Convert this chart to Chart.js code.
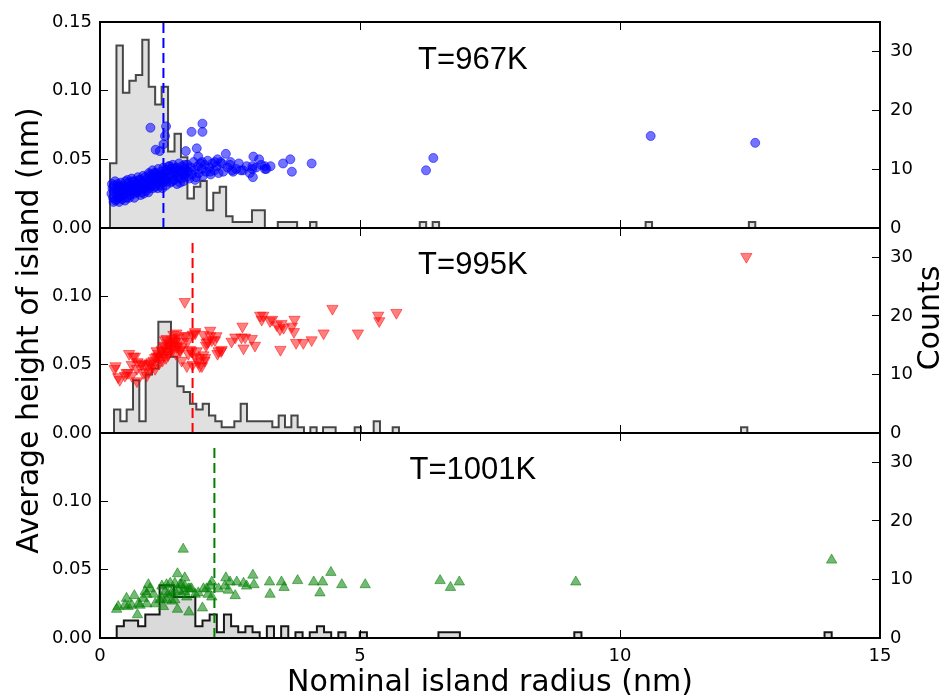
<!DOCTYPE html>
<html>
<head>
<meta charset="utf-8">
<script src="https://cdn.jsdelivr.net/npm/chart.js@4.4.1/dist/chart.umd.min.js"></script>
<style>
  html, body { margin: 0; padding: 0; background: #fff; }
  #wrap { position: relative; width: 947px; height: 700px; }
  #wrap canvas { position: absolute; left: 0; top: 0; }
</style>
</head>
<body>
<div id="wrap">
  <canvas id="p1" width="947" height="700"></canvas>
  <canvas id="p2" width="947" height="700"></canvas>
  <canvas id="p3" width="947" height="700"></canvas>
</div>
<script>
// shared axes
var xTicks = [0, 5, 10, 15];
var heightTicks = [0, 0.05, 0.10, 0.15];
var countTicks = [0, 10, 20, 30];
var panelLabels = ['T=967K', 'T=995K', 'T=1001K'];

// T=967K : [radius, height]
var pts967 = [
  [0.22,0.025],[0.24,0.029],[0.25,0.022],[0.27,0.031],[0.28,0.026],[0.30,0.020],[0.31,0.028],[0.33,0.024],
  [0.34,0.032],[0.35,0.027],[0.36,0.022],[0.38,0.030],[0.39,0.025],[0.40,0.033],[0.41,0.028],[0.42,0.021],
  [0.43,0.026],[0.45,0.031],[0.46,0.024],[0.47,0.029],[0.49,0.034],[0.50,0.027],[0.51,0.022],[0.52,0.030],
  [0.54,0.026],[0.55,0.033],[0.57,0.029],[0.58,0.024],[0.60,0.031],[0.61,0.036],[0.62,0.027],[0.64,0.030],
  [0.65,0.025],[0.67,0.034],[0.68,0.029],[0.70,0.032],[0.71,0.026],[0.73,0.037],[0.74,0.031],[0.76,0.028],
  [0.77,0.035],[0.79,0.030],[0.80,0.026],[0.82,0.033],[0.83,0.038],[0.85,0.029],[0.86,0.034],[0.88,0.031],
  [0.89,0.027],[0.91,0.036],[0.92,0.032],[0.94,0.040],[0.95,0.029],[0.97,0.035],[0.98,0.038],[1.00,0.031],
  [1.01,0.042],[1.03,0.034],[1.04,0.037],[1.06,0.030],[1.07,0.040],[1.09,0.036],[1.10,0.033],[1.12,0.043],
  [1.13,0.038],[1.15,0.031],[1.16,0.035],[1.18,0.041],[1.19,0.037],[1.21,0.033],[1.22,0.044],[1.24,0.039],
  [1.25,0.035],[1.27,0.031],[1.28,0.042],[1.30,0.037],[1.32,0.045],[1.33,0.040],[1.35,0.033],[1.37,0.043],
  [1.38,0.038],[1.40,0.046],[1.42,0.035],[1.43,0.041],[1.45,0.039],[1.47,0.044],[1.48,0.032],[1.50,0.037],
  [1.52,0.047],[1.53,0.042],[1.55,0.036],[1.57,0.040],[1.58,0.045],[1.60,0.034],[1.62,0.039],[1.64,0.043],
  [1.66,0.037],[1.68,0.046],[1.70,0.041],[1.72,0.036],[1.75,0.044],[1.77,0.039],[1.80,0.048],[1.82,0.042],
  [1.85,0.037],[1.88,0.045],[1.90,0.040],[1.93,0.047],[1.96,0.043],[1.98,0.038],[2.01,0.046],[2.04,0.041],
  [2.07,0.049],[2.10,0.044],[2.13,0.039],[2.16,0.047],[2.20,0.042],[2.24,0.045],[2.28,0.040],[2.32,0.048],
  [2.45,0.044],[2.50,0.046],[2.56,0.041],[2.62,0.043],[2.67,0.047],[2.75,0.042],[2.82,0.045],[2.88,0.040],
  [3.00,0.044],[3.10,0.046],[3.20,0.043],[3.28,0.045],
  [0.23,0.032],[0.26,0.019],[0.29,0.034],[0.32,0.021],[0.35,0.030],[0.37,0.019],[0.40,0.024],[0.44,0.028],
  [0.48,0.020],[0.53,0.035],[0.56,0.022],[0.59,0.028],[0.63,0.034],[0.66,0.022],[0.69,0.027],[0.72,0.030],
  [0.75,0.035],[0.78,0.024],[0.81,0.030],[0.84,0.025],[0.87,0.037],[0.90,0.030],[0.93,0.026],[0.96,0.039],
  [0.99,0.033],[1.02,0.029],[1.05,0.040],[1.08,0.034],[1.11,0.029],[1.14,0.039],[1.17,0.034],[1.20,0.029],
  [1.23,0.037],[1.26,0.040],[1.29,0.034],[1.34,0.045],[1.39,0.034],[1.44,0.043],[1.49,0.040],[1.54,0.033],
  [1.59,0.041],[1.63,0.046],[1.67,0.041],
  [0.97,0.073],[1.27,0.074],[1.25,0.067],[1.22,0.061],[1.07,0.057],[1.15,0.056],[1.76,0.070],[1.97,0.076],
  [1.97,0.070],[1.86,0.058],[1.65,0.056],[1.89,0.052],[2.42,0.054],[2.95,0.052],[3.06,0.050],[3.17,0.045],
  [3.17,0.043],[2.93,0.045],[2.93,0.043],[2.94,0.037],[3.52,0.047],[3.66,0.050],[3.69,0.041],[4.07,0.047],
  [2.71,0.042],[2.51,0.048],[2.54,0.042],[2.34,0.047],[2.37,0.041],[2.21,0.048],[2.26,0.050],[2.12,0.041],
  [1.96,0.048],[1.83,0.035],[6.27,0.042],[6.41,0.051],[10.59,0.067],[12.60,0.062]
];
var hist967Start = 0.192;
var hist967Width = 0.1241;
var hist967Counts = [
  11,31,23,25,26,32,24,21,24,13,
  16,12,5,7,8,3,6,7,2,1,
  1,1,3,3,0,0,1,1,1,0,
  0,1,0,0,0,0,0,0,0,0,
  0,0,0,0,0,0,0,0,1,0,
  1,0,0,0,0,0,0,0,0,0,
  0,0,0,0,0,0,0,0,0,0,
  0,0,0,0,0,0,0,0,0,0,
  0,0,0,1,0,0,0,0,0,0,
  0,0,0,0,0,0,0,0,0,1
];

// T=995K
var pts995 = [
  [1.63,0.096],[1.78,0.072],[1.83,0.074],[1.67,0.071],[1.99,0.072],[2.12,0.075],[2.08,0.067],[2.15,0.068],
  [2.04,0.064],[2.24,0.071],[2.33,0.060],[2.26,0.058],[2.53,0.067],[2.60,0.070],[2.72,0.070],[2.74,0.078],
  [2.79,0.070],[2.76,0.062],[2.92,0.069],[2.98,0.064],[3.08,0.086],[3.11,0.083],[3.14,0.086],[3.27,0.082],
  [3.31,0.083],[3.40,0.079],[3.49,0.080],[3.53,0.077],[3.46,0.076],[3.69,0.078],[3.74,0.083],[3.73,0.074],
  [3.47,0.061],[3.77,0.066],[3.91,0.066],[4.07,0.068],[4.30,0.073],[4.47,0.091],[4.96,0.073],[5.35,0.086],
  [5.37,0.082],[5.70,0.088],[12.43,0.129],
  [0.28,0.047],[0.30,0.049],[0.35,0.041],[0.38,0.039],[0.48,0.042],[0.51,0.044],[0.54,0.044],[0.56,0.058],
  [0.61,0.050],[0.61,0.042],[0.64,0.056],[0.67,0.056],[0.71,0.047],[0.71,0.038],[0.72,0.052],[0.80,0.051],
  [0.80,0.050],[0.83,0.044],[0.87,0.050],[0.90,0.042],[0.93,0.045],[0.93,0.049],[0.96,0.051],[0.99,0.052],
  [1.03,0.053],[1.06,0.055],[1.06,0.047],[1.09,0.060],[1.09,0.056],[1.12,0.056],[1.12,0.058],[1.15,0.055],
  [1.19,0.060],[1.19,0.061],[1.22,0.064],[1.22,0.057],[1.25,0.068],[1.25,0.063],[1.28,0.069],[1.28,0.060],
  [1.31,0.057],[1.31,0.066],[1.35,0.062],[1.38,0.068],[1.41,0.072],[1.41,0.064],[1.44,0.067],[1.44,0.069],
  [1.47,0.063],[1.47,0.073],[1.51,0.064],[1.51,0.067],[1.54,0.060],[1.54,0.061],[1.57,0.053],[1.57,0.063],
  [1.63,0.071],[1.67,0.049],[1.68,0.067],[1.70,0.058],[1.73,0.061],[1.76,0.060],[1.78,0.050],[1.83,0.056],
  [1.83,0.073],[1.86,0.060],[1.89,0.052],[1.91,0.055],[1.92,0.049],[1.96,0.049],[1.99,0.057],[2.01,0.053],
  [2.02,0.055],[2.05,0.066],[2.12,0.071],[2.21,0.068],[2.28,0.060],[2.34,0.061],
  [1.00,0.048],[1.14,0.051],[1.20,0.053],[1.27,0.055],[1.33,0.059],[1.36,0.065],[1.40,0.061],[1.46,0.058],
  [1.50,0.070]
];
var hist995Start = 0.269;
var hist995Width = 0.1218;
var hist995Counts = [
  4,2,4,9,2,10,11,19,19,13,
  8,7,5,4,5,3,2,1,1,2,
  5,2,2,2,2,1,3,1,3,1,
  0,1,0,1,1,0,0,0,1,0,
  0,2,0,0,1,0,0,0,0,0,
  0,0,0,0,0,0,0,0,0,0,
  0,0,0,0,0,0,0,0,0,0,
  0,0,0,0,0,0,0,0,0,0,
  0,0,0,0,0,0,0,0,0,0,
  0,0,0,0,0,0,0,0,0,1
];

// T=1001K
var pts1001 = [
  [1.60,0.065],[1.49,0.047],[1.63,0.044],[2.42,0.044],[2.50,0.041],[2.63,0.041],[2.76,0.040],[2.82,0.038],
  [2.94,0.046],[2.96,0.039],[3.26,0.041],[3.27,0.032],[3.49,0.041],[3.54,0.037],[3.80,0.042],[4.11,0.041],
  [4.28,0.041],[4.23,0.033],[4.44,0.048],[4.65,0.039],[5.10,0.039],[2.15,0.041],[2.12,0.038],[2.15,0.030],
  [2.28,0.036],[2.40,0.038],[2.47,0.035],[2.60,0.031],[1.97,0.022],[1.71,0.019],[1.49,0.021],[0.72,0.017],
  [0.32,0.021],[0.35,0.023],[0.51,0.029],[0.66,0.031],[0.48,0.024],[0.54,0.023],[0.61,0.024],[0.74,0.025],
  [0.77,0.024],[0.90,0.025],[0.93,0.039],[0.96,0.036],[1.03,0.032],[1.06,0.025],[1.15,0.028],[1.22,0.023],
  [1.25,0.034],[1.31,0.032],[1.38,0.033],[1.44,0.034],[1.51,0.035],[1.57,0.039],[1.63,0.034],[1.70,0.036],
  [1.76,0.036],[1.83,0.032],[1.89,0.033],[1.19,0.038],[1.28,0.039],[1.35,0.040],[1.44,0.040],[1.54,0.039],
  [1.63,0.038],[1.73,0.036],[1.19,0.029],[1.28,0.028],[1.38,0.027],[1.44,0.028],[1.57,0.032],[1.67,0.030],
  [1.99,0.036],[2.05,0.036],[2.08,0.032],[0.87,0.034],[0.83,0.029],[0.90,0.032],
  [6.54,0.042],[6.74,0.037],[6.91,0.041],[9.15,0.041],[14.07,0.057]
];
var hist1001Start = 0.321;
var hist1001Width = 0.1375;
var hist1001Counts = [
  2,3,3,2,4,4,9,9,7,7,
  7,2,3,4,1,4,2,1,2,1,
  0,2,0,2,0,1,0,1,2,1,
  0,1,0,0,1,0,0,0,0,0,
  0,0,0,0,0,1,1,1,0,0,
  0,0,0,0,0,0,0,0,0,0,
  0,0,0,0,1,0,0,0,0,0,
  0,0,0,0,0,0,0,0,0,0,
  0,0,0,0,0,0,0,0,0,0,
  0,0,0,0,0,0,0,0,0,1
];

// mean radius markers (dashed) and how high they reach
var meanRadius = [1.22, 1.78, 2.20];
var meanTop = [0.15, 0.141, 0.142];

var tickFont = { family: 'DejaVu Sans', size: 18 };
var titleFont = { family: 'DejaVu Sans', size: 30 };
var labelFont = '"Liberation Sans", Arial, sans-serif';

// step outline for a histogram, one point per bin edge
function histPoints(start, width, counts) {
  var pts = [{ x: start, y: 0 }];
  for (var i = 0; i < counts.length; i++) {
    pts.push({ x: start + i * width, y: counts[i] });
  }
  pts.push({ x: start + counts.length * width, y: 0 });
  return pts;
}

function toXY(list) {
  return list.map(function(p) { return { x: p[0], y: p[1] }; });
}

function setTicks(values) {
  return function(scale) {
    scale.ticks = values.map(function(v) { return { value: v }; });
  };
}

// fixed axis sizes so the three panels line up exactly
function fixSize(w, h) {
  return function(s) {
    if (w !== null) s.width = w;
    if (h !== null) s.height = h;
    s.paddingTop = 0; s.paddingBottom = 0;
    s.paddingLeft = 0; s.paddingRight = 0;
  };
}

// the "T=..." label inside each panel, plus the right-hand "Counts" title
var panelText = {
  id: 'panelText',
  afterDatasetsDraw: function(chart, args, opts) {
    if (!opts.text) return;
    var ctx = chart.ctx;
    ctx.save();
    ctx.font = '31px ' + labelFont;
    ctx.fillStyle = '#000';
    ctx.textAlign = 'center';
    ctx.textBaseline = 'alphabetic';
    ctx.fillText(opts.text, chart.scales.x.getPixelForValue(opts.x), chart.scales.y.getPixelForValue(opts.y));
    if (opts.rightTitle) {
      ctx.font = titleFont.size + 'px "' + titleFont.family + '"';
      ctx.translate(opts.rightTitle.px, opts.rightTitle.py);
      ctx.rotate(-Math.PI / 2);
      ctx.textBaseline = 'middle';
      ctx.fillText(opts.rightTitle.text, 0, 0);
    }
    ctx.restore();
  }
};

function makePanel(id, cfg) {
  var axisLine = { color: '#000', width: 2, z: 1 };
  var tickMarks = { drawOnChartArea: false, tickLength: -8, tickColor: '#000', tickWidth: 1, z: 1 };

  return new Chart(document.getElementById(id), {
    type: 'scatter',
    data: {
      datasets: [
        {
          type: 'scatter',
          data: toXY(cfg.points),
          yAxisID: 'y',
          pointStyle: cfg.marker,
          rotation: cfg.rotation,
          pointRadius: cfg.radius,
          backgroundColor: cfg.fill,
          borderColor: cfg.fill,
          borderWidth: 1,
          order: 1
        },
        {
          type: 'line',
          data: [{ x: cfg.mean, y: 0 }, { x: cfg.mean, y: cfg.meanTop }],
          yAxisID: 'y',
          borderColor: cfg.lineColor,
          borderWidth: 2,
          borderDash: [10, 5],
          pointRadius: 0,
          fill: false,
          order: 2
        },
        {
          type: 'line',
          data: histPoints(cfg.histStart, cfg.histWidth, cfg.counts),
          yAxisID: 'y2',
          stepped: 'before',
          fill: 'origin',
          backgroundColor: cfg.histFill,
          borderColor: cfg.histEdge,
          borderWidth: 2,
          pointRadius: 0,
          order: 3
        }
      ]
    },
    plugins: [panelText],
    options: {
      responsive: false,
      animation: false,
      events: [],
      layout: { padding: { top: cfg.top, bottom: 0, left: 0, right: 0 } },
      plugins: {
        legend: { display: false },
        tooltip: { enabled: false },
        panelText: { text: cfg.label, x: 7.17, y: 0.116, rightTitle: cfg.rightTitle }
      },
      scales: {
        x: {
          type: 'linear', position: 'bottom', min: 0, max: 15,
          afterBuildTicks: setTicks(xTicks),
          afterFit: fixSize(null, 700 - cfg.bottom),
          ticks: { display: cfg.showX, font: tickFont, color: '#000', padding: 16, maxRotation: 0 },
          grid: tickMarks, border: axisLine,
          title: {
            display: cfg.showX, text: 'Nominal island radius (nm)', color: '#000',
            font: titleFont, padding: { top: 0, bottom: -1 }
          }
        },
        xTop: {
          type: 'linear', position: 'top', min: 0, max: 15,
          afterBuildTicks: setTicks(xTicks),
          afterFit: fixSize(null, 0),
          ticks: { display: false },
          grid: tickMarks, border: axisLine
        },
        y: {
          type: 'linear', position: 'left', min: 0, max: 0.15,
          afterBuildTicks: setTicks(heightTicks),
          afterFit: fixSize(100, null),
          ticks: {
            font: tickFont, color: '#000', padding: 16,
            callback: function(v) { return (v > 0.14 && !cfg.showTop) ? null : v.toFixed(2); }
          },
          grid: tickMarks, border: axisLine,
          title: {
            display: cfg.showYTitle, text: 'Average height of island (nm)', color: '#000',
            font: titleFont, padding: { top: 12, bottom: 0 }
          }
        },
        y2: {
          type: 'linear', position: 'right', min: 0, max: 35,
          afterBuildTicks: setTicks(countTicks),
          afterFit: fixSize(67, null),
          ticks: { font: tickFont, color: '#000', padding: 18 },
          grid: tickMarks, border: axisLine
        }
      }
    }
  });
}

makePanel('p1', {
  top: 22, bottom: 228, label: panelLabels[0], showX: false, showTop: true, showYTitle: false,
  points: pts967, marker: 'circle', rotation: 0, radius: 4.5, fill: 'rgba(0,0,255,0.55)',
  mean: meanRadius[0], meanTop: meanTop[0], lineColor: '#0000ff',
  histStart: hist967Start, histWidth: hist967Width, counts: hist967Counts,
  histFill: 'rgba(211,211,211,0.7)', histEdge: 'rgba(0,0,0,0.7)'
});

makePanel('p2', {
  top: 228, bottom: 433, label: panelLabels[1], showX: false, showTop: false, showYTitle: true,
  points: pts995, marker: 'triangle', rotation: 180, radius: 6.5, fill: 'rgba(255,0,0,0.5)',
  mean: meanRadius[1], meanTop: meanTop[1], lineColor: '#ff0000',
  histStart: hist995Start, histWidth: hist995Width, counts: hist995Counts,
  histFill: 'rgba(211,211,211,0.7)', histEdge: 'rgba(0,0,0,0.7)',
  rightTitle: { text: 'Counts', px: 931, py: 318 }
});

makePanel('p3', {
  top: 433, bottom: 638, label: panelLabels[2], showX: true, showTop: false, showYTitle: false,
  points: pts1001, marker: 'triangle', rotation: 0, radius: 6, fill: 'rgba(0,128,0,0.55)',
  mean: meanRadius[2], meanTop: meanTop[2], lineColor: '#008000',
  histStart: hist1001Start, histWidth: hist1001Width, counts: hist1001Counts,
  histFill: 'rgba(211,211,211,0.85)', histEdge: 'rgba(0,0,0,0.9)'
});
</script>
</body>
</html>
